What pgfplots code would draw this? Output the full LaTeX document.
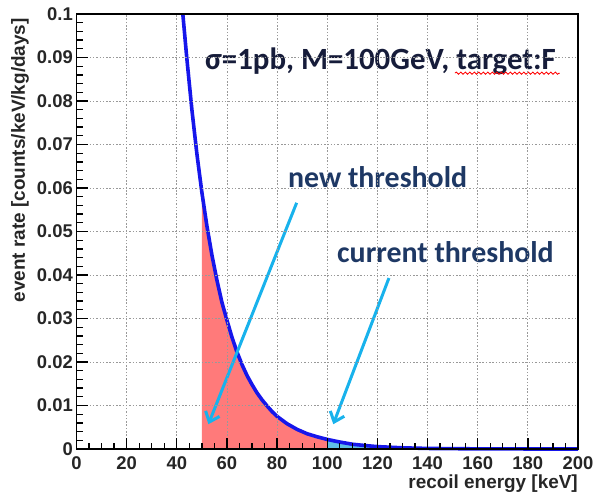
\documentclass[border=0pt]{standalone}
\usepackage{pgfplots}
\pgfplotsset{compat=1.18}
\usepackage{fontspec}
\setmainfont{Liberation Sans}
\newfontfamily\calfont{Carlito}
\newfontfamily\tickfont{Liberation Sans Bold}
\usetikzlibrary{arrows.meta,decorations.pathmorphing}
\definecolor{curveblue}{RGB}{22,22,235}
\definecolor{redfill}{RGB}{255,122,122}
\definecolor{cyanfill}{RGB}{95,190,230}
\definecolor{arrowcyan}{RGB}{24,178,236}
\definecolor{titlecol}{RGB}{22,28,58}
\definecolor{annocol}{RGB}{30,56,100}
\pgfplotstableread{
x y
42.4 0.1000
44 0.0898
46 0.0781
48 0.0679
50 0.0590
52 0.0513
54 0.0446
56 0.0388
58 0.0337
60 0.0296
62 0.0257
64 0.0223
66 0.0194
68 0.0169
70 0.0148
72 0.0129
74 0.0113
76 0.0099
78 0.0086
80 0.0075
84 0.0058
88 0.0045
92 0.0035
96 0.0028
100 0.0022
105 0.0016
110 0.0011
115 0.0008
120 0.00055
130 0.00027
140 0.00013
160 0.00003
180 0.00001
200 0.0
}\rate
\pgfplotstableread{
x y
50 0.0590
52 0.0513
54 0.0446
56 0.0388
58 0.0337
60 0.0296
62 0.0257
64 0.0223
66 0.0194
68 0.0169
70 0.0148
72 0.0129
74 0.0113
76 0.0099
78 0.0086
80 0.0075
84 0.0058
88 0.0045
92 0.0035
96 0.0028
100 0.0022
}\redpart
\pgfplotstableread{
x y
100 0.0022
105 0.0016
110 0.0011
115 0.0008
120 0.00055
}\cyanpart
\begin{document}
\begin{tikzpicture}
\useasboundingbox (-76.5bp,-44bp) rectangle (520.5bp,449bp);
\begin{axis}[
  at={(0,0)}, anchor=south west,
  scale only axis, width=501.5bp, height=435bp,
  xmin=0, xmax=200, ymin=0, ymax=0.1,
  clip=false, axis on top,
  xtick={0,20,40,60,80,100,120,140,160,180,200},
  ytick={0,0.01,0.02,0.03,0.04,0.05,0.06,0.07,0.08,0.09,0.1},
  xticklabel={\tickfont\pgfmathprintnumber[fixed,precision=0,assume math mode=true]{\tick}},
  yticklabel={\tickfont\pgfmathprintnumber[fixed,precision=2,assume math mode=true]{\tick}},
  minor x tick num=3, minor y tick num=4,
  xtick pos=bottom, ytick pos=left, tick align=inside,
  major tick length=11bp, minor tick length=6bp,
  tick style={black, line width=1.3bp},
  axis line style={black, line width=1.3bp},
  grid=major,
  major grid style={gray!80, line width=0.9bp, dash pattern=on 1.5bp off 1.8bp},
  tick label style={font=\fontsize{18.5}{20}\selectfont, text=black!85},
  yticklabel style={inner sep=0pt, xshift=-3.5bp},
  xticklabel style={inner sep=0pt, yshift=-7bp},
]
\addplot[fill=redfill, draw=none] table {\redpart} \closedcycle;
\addplot[fill=cyanfill, draw=none] table {\cyanpart} \closedcycle;
\addplot[curveblue, line width=3.6bp] table {\rate};

\draw[arrowcyan, line width=3bp, -{Straight Barb[length=9bp, width=15bp, line width=3bp]}]
  (axis cs:87.8,0.0566) -- (axis cs:52.6,0.0057);
\draw[arrowcyan, line width=3bp, -{Straight Barb[length=9bp, width=15bp, line width=3bp]}]
  (axis cs:124.6,0.0393) -- (axis cs:102.4,0.0057);

\node[anchor=base west, inner sep=0pt, text=titlecol, font=\calfont\bfseries\fontsize{31}{33}\selectfont]
  at (axis cs:51.2,0.0872) {σ=1pb, M=100GeV, target:F};
\draw[red, line width=0.8bp, decorate, decoration={snake, amplitude=1.1bp, segment length=4.5bp}]
  (axis cs:150.9,0.0864) -- (axis cs:192.8,0.0864);
\node[anchor=base west, inner sep=0pt, text=annocol, font=\calfont\bfseries\fontsize{30}{32}\selectfont]
  at (axis cs:84.3,0.0600) {new threshold};
\node[anchor=base west, inner sep=0pt, text=annocol, font=\calfont\bfseries\fontsize{30}{32}\selectfont]
  at (axis cs:103.9,0.0428) {current threshold};

\node[anchor=base east, inner sep=0pt, font=\fontsize{19}{21}\selectfont\bfseries, text=black!85]
  at ([yshift=-39bp]rel axis cs:1,0) {recoil energy [keV]};
\node[rotate=90, anchor=base east, inner sep=0pt, font=\fontsize{19}{21}\selectfont\bfseries, text=black!85]
  at ([xshift=-51.5bp, yshift=-4bp]rel axis cs:0,1) {event rate [counts/keV/kg/days]};
\draw[gray!75, line width=2.6bp] (rel axis cs:0,1) -- (rel axis cs:1,1) -- (rel axis cs:1,0);
\end{axis}
\end{tikzpicture}
\end{document}
